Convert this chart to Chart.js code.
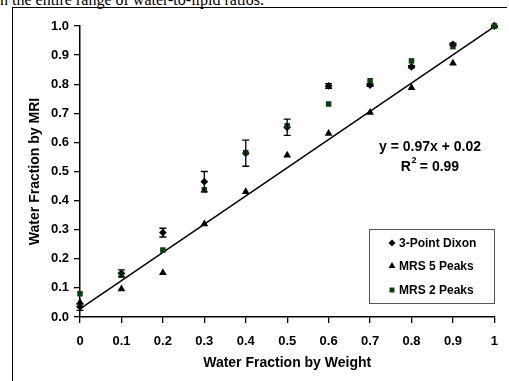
<!DOCTYPE html>
<html>
<head>
<meta charset="utf-8">
<script src="https://cdn.jsdelivr.net/npm/chart.js@4/dist/chart.umd.min.js"></script>
<style>
    html, body { margin: 0; padding: 0; background: #fff; }
    #wrap { position: relative; width: 509px; height: 381px; overflow: hidden; }
    #caption { position: absolute; left: 0; top: -9px; font: 16px "Liberation Serif", "Times New Roman", serif; color: #000; white-space: nowrap; }
    #frameTop { position: absolute; left: 12px; top: 7px; width: 495px; height: 1px; background: #000; }
    #frameLeft { position: absolute; left: 12px; top: 7px; width: 1px; height: 374px; background: #000; }
    canvas { position: absolute; left: 0; top: 0; }
</style>
</head>
<body>
<div id="wrap">
    <div id="caption">n the entire range of water-to-lipid ratios.</div>
    <div id="frameTop"></div>
    <div id="frameLeft"></div>
    <canvas id="chart" width="509" height="381"></canvas>
</div>
<script>
// water fraction by weight
const fractions = [0, 0.1, 0.2, 0.3, 0.4, 0.5, 0.6, 0.7, 0.8, 0.9, 1.0];
// water fraction by MRI, per method
const dixon = [0.035, 0.15, 0.29, 0.465, 0.563, 0.652, 0.794, 0.797, 0.86, 0.937, 1.0];
const dixonErr = [0.012, 0.012, 0.015, 0.035, 0.045, 0.028, 0.008, 0.004, 0.004, 0.004, 0];
const mrs5 = [0.05, 0.096, 0.152, 0.32, 0.43, 0.556, 0.631, 0.703, 0.788, 0.872, 1.0];
const mrs2 = [0.08, 0.144, 0.23, 0.437, 0.565, 0.657, 0.732, 0.812, 0.88, 0.929, 1.0];
// linear fit endpoints
const fitX = [0, 1];
const fitY = [0.028, 0.998];

const xTickLabels = ['0', '0.1', '0.2', '0.3', '0.4', '0.5', '0.6', '0.7', '0.8', '0.9', '1'];
const yTickLabels = ['0.0', '0.1', '0.2', '0.3', '0.4', '0.5', '0.6', '0.7', '0.8', '0.9', '1.0'];
const seriesNames = ['3-Point Dixon', 'MRS 5 Peaks', 'MRS 2 Peaks'];

const FONT = '"Liberation Sans", Arial, sans-serif';
const GREEN = '#0c3f0c';

const toPoints = (ys) => ys.map((y, i) => ({ x: fractions[i], y: y }));

// error bars on the Dixon series
const errorBars = {
    id: 'errorBars',
    afterDatasetsDraw(chart) {
        const { ctx, scales: { x, y } } = chart;
        ctx.save();
        ctx.strokeStyle = '#000';
        ctx.lineWidth = 1.3;
        dixon.forEach((v, i) => {
            const e = dixonErr[i];
            if (!e) return;
            const px = x.getPixelForValue(fractions[i]);
            const top = y.getPixelForValue(v + e);
            const bot = y.getPixelForValue(v - e);
            ctx.beginPath();
            ctx.moveTo(px, top); ctx.lineTo(px, bot);
            ctx.moveTo(px - 3.5, top); ctx.lineTo(px + 3.5, top);
            ctx.moveTo(px - 3.5, bot); ctx.lineTo(px + 3.5, bot);
            ctx.stroke();
        });
        ctx.restore();
    }
};

// legend box and fit equation inside the plot
const overlay = {
    id: 'overlay',
    afterDraw(chart) {
        const ctx = chart.ctx;
        ctx.save();
        // equation
        ctx.fillStyle = '#000';
        ctx.font = 'bold 14px ' + FONT;
        ctx.textAlign = 'center';
        ctx.textBaseline = 'middle';
        ctx.fillText('y = 0.97x + 0.02', 430, 147);

        // R² line, laid out piece by piece
        ctx.textAlign = 'left';
        const rest = ' = 0.99';
        const wR = ctx.measureText('R').width;
        const wRest = ctx.measureText(rest).width;
        ctx.font = 'bold 9px ' + FONT;
        const wSup = ctx.measureText('2').width;
        const x0 = 430 - (wR + wSup + wRest) / 2;
        ctx.font = 'bold 14px ' + FONT;
        ctx.fillText('R', x0, 167);
        ctx.fillText(rest, x0 + wR + wSup, 167);
        ctx.font = 'bold 9px ' + FONT;
        ctx.fillText('2', x0 + wR + 0.5, 161);

        // legend
        ctx.strokeStyle = '#555';
        ctx.lineWidth = 1;
        ctx.strokeRect(369.5, 229.5, 125, 74);
        const rows = [243, 266, 290];
        const styles = [
            { shape: 'rectRot', color: '#000', r: 3.5 },
            { shape: 'triangle', color: '#000', r: 4 },
            { shape: 'rect', color: GREEN, r: 3.5 }
        ];
        ctx.font = 'bold 12px ' + FONT;
        ctx.textAlign = 'left';
        rows.forEach((yy, i) => {
            const s = styles[i];
            ctx.fillStyle = s.color;
            ctx.strokeStyle = s.color;
            Chart.helpers.drawPoint(ctx, { pointStyle: s.shape, radius: s.r, borderWidth: 0 }, 392, yy);
            ctx.fillStyle = '#000';
            ctx.fillText(seriesNames[i], 399, yy + 1);
        });
        ctx.restore();
    }
};

new Chart(document.getElementById('chart'), {
    type: 'scatter',
    data: {
        datasets: [
            {
                label: seriesNames[2],
                data: toPoints(mrs2),
                pointStyle: 'rect',
                pointRadius: 3.9,
                backgroundColor: GREEN,
                borderColor: GREEN,
                borderWidth: 0,
                clip: false,
                order: 1
            },
            {
                label: seriesNames[1],
                data: toPoints(mrs5),
                pointStyle: 'triangle',
                pointRadius: 4.5,
                backgroundColor: '#000',
                borderColor: '#000',
                borderWidth: 0,
                clip: false,
                order: 2
            },
            {
                label: seriesNames[0],
                data: toPoints(dixon),
                pointStyle: 'rectRot',
                pointRadius: 3.9,
                backgroundColor: '#000',
                borderColor: '#000',
                borderWidth: 0,
                clip: false,
                order: 3
            },
            {
                type: 'line',
                label: 'fit',
                data: fitX.map((xv, i) => ({ x: xv, y: fitY[i] })),
                borderColor: '#000',
                borderWidth: 1.5,
                pointRadius: 0,
                fill: false,
                clip: false,
                order: 4
            }
        ]
    },
    options: {
        responsive: false,
        animation: false,
        layout: { padding: { left: 0, right: 12, top: 26, bottom: 0 } },
        plugins: {
            legend: { display: false },
            tooltip: { enabled: false }
        },
        scales: {
            x: {
                type: 'linear',
                min: 0,
                max: 1,
                afterFit: (scale) => { scale.height = 64; },
                ticks: {
                    stepSize: 0.1,
                    color: '#000',
                    font: { family: FONT, size: 13, weight: 'bold' },
                    padding: 11,
                    maxRotation: 0,
                    callback: (v, i) => xTickLabels[i]
                },
                grid: { drawOnChartArea: false, drawTicks: true, tickLength: 6, color: '#000', lineWidth: 1.3 },
                border: { display: true, color: '#000', width: 1.5 },
                title: {
                    display: true,
                    text: 'Water Fraction by Weight',
                    color: '#000',
                    font: { family: FONT, size: 14, weight: 'bold' },
                    padding: { top: 0, bottom: 9 }
                }
            },
            y: {
                type: 'linear',
                min: 0,
                max: 1,
                afterFit: (scale) => { scale.width = 80; },
                ticks: {
                    stepSize: 0.1,
                    color: '#000',
                    font: { family: FONT, size: 13, weight: 'bold' },
                    padding: 5,
                    callback: (v, i) => yTickLabels[i]
                },
                grid: { drawOnChartArea: false, drawTicks: true, tickLength: 6, color: '#000', lineWidth: 1.3 },
                border: { display: true, color: '#000', width: 1.5 },
                title: {
                    display: true,
                    text: 'Water Fraction by MRI',
                    color: '#000',
                    font: { family: FONT, size: 14, weight: 'bold' },
                    padding: { top: 27, bottom: 0 }
                }
            }
        }
    },
    plugins: [errorBars, overlay]
});
</script>
</body>
</html>
